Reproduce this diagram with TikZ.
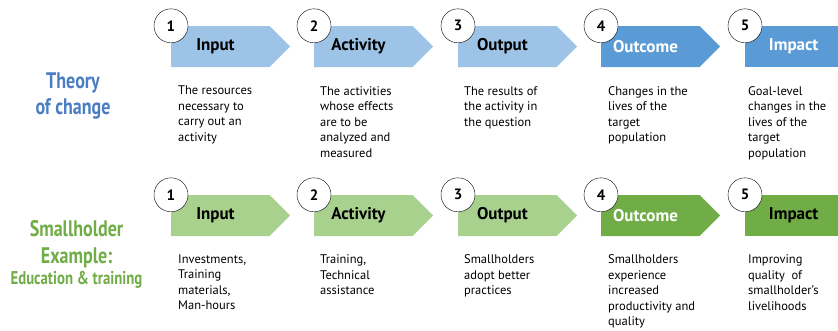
\documentclass[tikz,border=0pt]{standalone}
\usepackage{fontspec}
\setmainfont{PT Sans}
\newfontfamily\condfont[FakeStretch=0.8]{PT Sans}
\usepackage{xcolor}
\usepackage{tikz}
\usetikzlibrary{shapes.symbols}
\definecolor{paleblue}{HTML}{9DC3E6}
\definecolor{deepblue}{HTML}{5B9BD5}
\definecolor{palegreen}{HTML}{A9D18E}
\definecolor{deepgreen}{HTML}{70AD47}
\definecolor{titleblue}{HTML}{4A7DC2}
\tikzstyle{every node}=[font=\fontsize{12.5}{15.5}\selectfont]
\tikzstyle{stage}=[signal, signal to=east, signal from=nowhere, minimum width=119pt, minimum height=41pt, inner sep=0pt, anchor=west]
\tikzstyle{last stage}=[rectangle, minimum width=93pt, minimum height=41pt, inner sep=0pt, anchor=west]
\tikzstyle{stagename}=[font=\fontsize{17}{17}\selectfont\bfseries]
\tikzstyle{numcircle}=[circle, draw, thin, fill=white, minimum size=34pt, inner sep=0pt, font=\fontsize{15}{15}\selectfont\bfseries]
\tikzstyle{desc}=[anchor=north west, align=left, inner sep=0pt]
\tikzstyle{rowtitle}=[align=center, anchor=north, inner sep=0pt, font=\condfont\bfseries\fontsize{22.5}{26}\selectfont]

\begin{document}
\begin{tikzpicture}[x=1pt, y=-1pt]
    \useasboundingbox (0, 0) rectangle (838, 330);

    \node [rowtitle, text=titleblue] (toc) at (73, 72.5) {Theory\\of change};

    \node [stage, fill=paleblue, label={[stagename, xshift=-5pt]center:Input}] (input1) at (171, 46.5) {};
    \node [stage, fill=paleblue, label={[stagename, xshift=-5pt]center:Activity}] (activity1) at (314, 46.5) {};
    \node [stage, fill=paleblue, label={[stagename, xshift=-5pt]center:Output}] (output1) at (458, 46.5) {};
    \node [stage, fill=deepblue, label={[stagename, text=white, xshift=-5pt]center:Outcome}] (outcome1) at (601, 46.5) {};
    \node [last stage, fill=deepblue, label={[stagename, text=white, xshift=2pt]center:Impact}] (impact1) at (745, 46.5) {};

    \node [numcircle] (n11) at (input1.north west) {1};
    \node [numcircle] (n12) at (activity1.north west) {2};
    \node [numcircle] (n13) at (output1.north west) {3};
    \node [numcircle] (n14) at (outcome1.north west) {4};
    \node [numcircle] (n15) at (impact1.north west) {5};

    \node [desc] (d11) at (178, 86) {The resources\\necessary to\\carry out an\\activity};
    \node [desc] (d12) at (320, 86) {The activities\\whose effects\\are to be\\analyzed and\\measured};
    \node [desc] (d13) at (464, 86) {The results of\\the activity in\\the question};
    \node [desc] (d14) at (608, 86) {Changes in the\\lives of the\\target\\population};
    \node [desc] (d15) at (748, 86) {Goal-level\\changes in the\\lives of the\\target\\population};

    \node [rowtitle, text=deepgreen, font=\condfont\bfseries\fontsize{22.5}{27}\selectfont] (ex) at (76.5, 220) {Smallholder\\Example:};
    \node [rowtitle, text=deepgreen, font=\condfont\bfseries\fontsize{18.5}{20}\selectfont] (exsub) at (76.5, 271.5) {Education \& training};

    \node [stage, fill=palegreen, label={[stagename, xshift=-5pt]center:Input}] (input2) at (171, 215.5) {};
    \node [stage, fill=palegreen, label={[stagename, xshift=-5pt]center:Activity}] (activity2) at (314, 215.5) {};
    \node [stage, fill=palegreen, label={[stagename, xshift=-5pt]center:Output}] (output2) at (458, 215.5) {};
    \node [stage, fill=deepgreen, label={[stagename, text=white, xshift=-5pt]center:Outcome}] (outcome2) at (601, 215.5) {};
    \node [last stage, fill=deepgreen, label={[stagename, xshift=2pt]center:Impact}] (impact2) at (745, 215.5) {};

    \node [numcircle] (n21) at (input2.north west) {1};
    \node [numcircle] (n22) at (activity2.north west) {2};
    \node [numcircle] (n23) at (output2.north west) {3};
    \node [numcircle] (n24) at (outcome2.north west) {4};
    \node [numcircle] (n25) at (impact2.north west) {5};

    \node [desc] (d21) at (178, 254.5) {Investments,\\Training\\materials,\\Man-hours};
    \node [desc] (d22) at (320, 254.5) {Training,\\Technical\\assistance};
    \node [desc] (d23) at (464, 254.5) {Smallholders\\adopt better\\practices};
    \node [desc] (d24) at (608, 254.5) {Smallholders\\experience\\increased\\productivity and\\quality};
    \node [desc] (d25) at (748, 254.5) {Improving\\quality~ of\\smallholder's\\livelihoods};
\end{tikzpicture}
\end{document}
